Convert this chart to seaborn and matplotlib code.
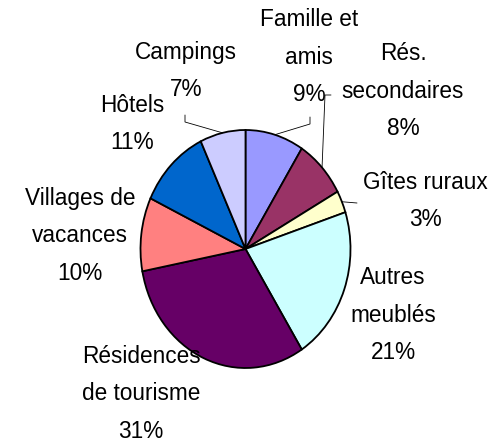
import numpy as np
import seaborn as sns
import matplotlib.pyplot as plt

# data
labels = ['Famille et\namis', 'Rés.\nsecondaires', 'Gîtes ruraux', 'Autres\nmeublés',
          'Résidences\nde tourisme', 'Villages de\nvacances', 'Hôtels', 'Campings']
shares = [9, 8, 3, 21, 31, 10, 11, 7]
colors = ['#9999FF', '#993366', '#FFFFCC', '#CCFFFF', '#660066', '#FF8080', '#0066CC', '#CCCCFF']

# label block centres in pixels (x, y from top)
label_pos = [(309, 57), (403, 91), (425, 201), (393, 315),
             (141, 394), (80, 236), (132, 124), (186, 71)]
# leader line bends (pixels) for the small slices
leader = {0: [(310, 124), (310, 117)],
          1: [(325, 95), (331, 95)],
          2: [(357, 203)],
          7: [(185, 122), (185, 115)]}

sns.set_theme(style='white')
plt.rcParams['font.family'] = ['Liberation Sans', 'DejaVu Sans']

W, H = 498, 447
fig = plt.figure(figsize=(W / 100, H / 100), dpi=100)
# pie box in pixels: left, right, top, bottom
pl, pr, pt, pb = 140.5, 350.5, 130, 368
ax = fig.add_axes([pl / W, 1 - pb / H, (pr - pl) / W, (pb - pt) / H])

wedges, _ = ax.pie(shares, colors=colors, startangle=90, counterclock=False,
                   radius=1, wedgeprops=dict(edgecolor='black', linewidth=1.3))
ax.set_aspect('auto')
ax.set_xlim(-1, 1)
ax.set_ylim(-1, 1)
ax.axis('off')

cx, cy = (pl + pr) / 2, (pt + pb) / 2
rx, ry = (pr - pl) / 2, (pb - pt) / 2


def px_to_data(p):
    return ((p[0] - cx) / rx, (cy - p[1]) / ry)


for i, (lab, val) in enumerate(zip(labels, shares)):
    x, y = px_to_data(label_pos[i])
    ax.text(x, y, f'{lab}\n{val}%', ha='center', va='center', multialignment='center',
            fontsize=16.3, linespacing=1.78, color='black', clip_on=False)
    if i in leader:
        w = wedges[i]
        mid = np.deg2rad((w.theta1 + w.theta2) / 2)
        pts = [(np.cos(mid), np.sin(mid))] + [px_to_data(p) for p in leader[i]]
        xs, ys = zip(*pts)
        ax.plot(xs, ys, color='black', lw=0.6, clip_on=False)

fig.savefig('out.png', dpi=100)
